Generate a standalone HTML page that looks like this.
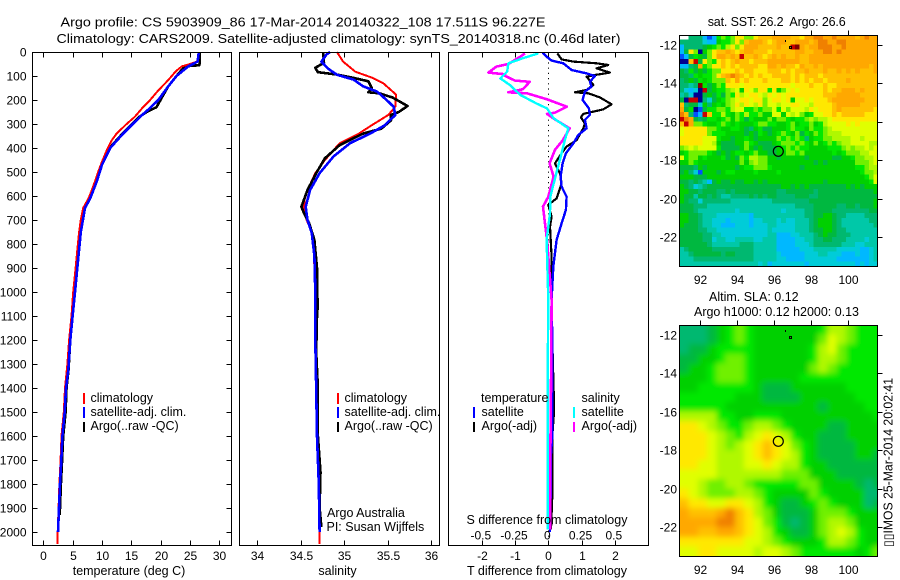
<!DOCTYPE html>
<html lang="en">
<head>
<meta charset="utf-8">
<title>Argo profile CS 5903909_86</title>
<style>
html,body{margin:0;padding:0;background:#fff;}
#chart{display:block;width:900px;height:580px;}
text{font-family:"Liberation Sans",sans-serif;font-size:12.5px;fill:#000;}
text.tk{font-size:12px;}
.frame{fill:none;stroke:#000;stroke-width:1.3;shape-rendering:crispEdges;}
.tick{stroke:#000;stroke-width:1;shape-rendering:crispEdges;}
.mark{stroke-width:2.4;shape-rendering:crispEdges;}
.series{fill:none;stroke-linejoin:round;shape-rendering:crispEdges;}
</style>
</head>
<body>
<svg id="chart" xmlns="http://www.w3.org/2000/svg" width="900" height="580" viewBox="0 0 900 580">
  <defs>
    <clipPath id="clip-sst"><rect x="679.5" y="35.5" width="198" height="231"/></clipPath>
    <clipPath id="clip-sla"><rect x="679.5" y="325.5" width="198" height="231"/></clipPath>
    <filter id="sla-smooth" filterUnits="userSpaceOnUse" x="640" y="290" width="260" height="290"><feGaussianBlur stdDeviation="3"/></filter>
  </defs>
  <text x="60.5" y="26.5" textLength="485" lengthAdjust="spacingAndGlyphs" style="font-size:13px">Argo profile: CS 5903909_86 17-Mar-2014 20140322_108 17.511S 96.227E</text>
  <text x="56.5" y="43" textLength="564" lengthAdjust="spacingAndGlyphs" style="font-size:13px">Climatology: CARS2009. Satellite-adjusted climatology: synTS_20140318.nc (0.46d later)</text>

  <g id="layer-sst" clip-path="url(#clip-sst)"></g>
  <g clip-path="url(#clip-sla)"><g id="layer-sla" filter="url(#sla-smooth)"></g></g>
  <g id="layer-axes"></g>
  <g id="layer-lines"></g>

  <rect class="frame" x="32.5" y="52.5" width="199" height="493"/>
  <rect class="frame" x="239.5" y="52.5" width="200" height="493"/>
  <rect class="frame" x="448.5" y="52.5" width="200" height="493"/>
  <rect class="frame" x="679.5" y="35.5" width="198" height="231"/>
  <rect class="frame" x="679.5" y="325.5" width="198" height="231"/>

  <text x="129" y="575" text-anchor="middle">temperature (deg C)</text>
  <text x="337.5" y="575" text-anchor="middle">salinity</text>
  <text x="547" y="575" text-anchor="middle">T difference from climatology</text>
  <text x="547" y="524" text-anchor="middle">S difference from climatology</text>

  <g>
    <line class="mark" x1="84" x2="84" y1="393" y2="404" stroke="#f00"/>
    <text x="90.5" y="402">climatology</text>
    <line class="mark" x1="84" x2="84" y1="407" y2="418" stroke="#00f"/>
    <text x="90.5" y="416">satellite-adj. clim.</text>
    <line class="mark" x1="84" x2="84" y1="422" y2="432" stroke="#000"/>
    <text x="90.5" y="430">Argo(..raw -QC)</text>
  </g>
  <g>
    <line class="mark" x1="338" x2="338" y1="393" y2="404" stroke="#f00"/>
    <text x="344.5" y="402">climatology</text>
    <line class="mark" x1="338" x2="338" y1="407" y2="418" stroke="#00f"/>
    <text x="344.5" y="416">satellite-adj. clim.</text>
    <line class="mark" x1="338" x2="338" y1="422" y2="432" stroke="#000"/>
    <text x="344.5" y="430">Argo(..raw -QC)</text>
  </g>
  <text x="327" y="517">Argo Australia</text>
  <text x="326.5" y="531">PI: Susan Wijffels</text>
  <g>
    <text x="481" y="402">temperature</text>
    <line class="mark" x1="474" x2="474" y1="407" y2="418" stroke="#00f"/>
    <text x="481.5" y="416">satellite</text>
    <line class="mark" x1="474" x2="474" y1="422" y2="432" stroke="#000"/>
    <text x="481.5" y="430">Argo(-adj)</text>
    <text x="581.5" y="402">salinity</text>
    <line class="mark" x1="574" x2="574" y1="407" y2="418" stroke="#0ff"/>
    <text x="581.5" y="416">satellite</text>
    <line class="mark" x1="574" x2="574" y1="422" y2="432" stroke="#f0f"/>
    <text x="581.5" y="430">Argo(-adj)</text>
  </g>

  <text x="707.7" y="26" textLength="138" xml:space="preserve" style="white-space:pre">sat. SST: 26.2  Argo: 26.6</text>
  <text x="709" y="301">Altim. SLA: 0.12</text>
  <text x="694" y="316" textLength="165">Argo h1000: 0.12 h2000: 0.13</text>
  <text transform="translate(892.5 547) rotate(-90)" textLength="169" lengthAdjust="spacingAndGlyphs">▯▯IMOS 25-Mar-2014 20:02:41</text>

  <circle cx="778.3" cy="151.3" r="5" fill="none" stroke="#000" stroke-width="1.2"/>
  <circle cx="778.3" cy="441.3" r="5" fill="none" stroke="#000" stroke-width="1.2"/>
  <g shape-rendering="crispEdges">
    <rect x="785" y="40" width="1" height="2" fill="#000"/>
    <rect x="789.5" y="46.5" width="2" height="2" fill="none" stroke="#000"/>
  </g>
  <g shape-rendering="crispEdges">
    <rect x="785" y="330" width="1" height="2" fill="#000"/>
    <rect x="789.5" y="336.5" width="2" height="2" fill="none" stroke="#000"/>
  </g>
</svg>

<script>
// ---------- Axis tick values ----------
const depthTicks = [0,100,200,300,400,500,600,700,800,900,1000,1100,1200,1300,1400,1500,1600,1700,1800,1900,2000];
const tempTicks = [0,5,10,15,20,25,30];
const salTicks = [34,34.5,35,35.5,36];
const salTickLabels = ['34','34.5','35','35.5','36'];
const tDiffTicks = [-2,-1,0,1,2];
const sDiffTicks = [-0.5,-0.25,0,0.25,0.5];
const sDiffTickLabels = ['-0.5','-0.25','0','0.25','0.5'];
const lonTicks = [92,94,96,98,100];
const latTicks = [-12,-14,-16,-18,-20,-22];

// ---------- Temperature profiles ----------
const tempClimDepth = [0,20,40,50,60,80,100,130,160,200,230,270,300,340,370,400,440,470,510,540,580,610,650,700,750,800,900,1000,1100,1200,1300,1400,1500,1600,1700,1800,1900,2000,2050];
const tempClimValue = [26.5,26.4,26.2,25.0,23.6,22.6,21.9,20.8,19.6,18.2,17.0,15.6,14.2,12.5,11.6,11.0,10.3,9.8,9.2,8.8,8.2,7.7,6.8,6.4,6.1,5.9,5.5,5.1,4.8,4.4,4.1,3.7,3.5,3.1,2.95,2.75,2.6,2.45,2.4];
const tempSatDepth = [0,20,40,60,100,143,200,240,270,340,400,470,540,610,650,750,900,1000,1100,1200,1325,1400,1500,1600,1700,1800,1900,2000];
const tempSatValue = [26.5,26.4,26.3,24.7,22.7,21.3,19.6,17.9,16.5,13.6,11.4,10.0,9.1,8.0,7.1,6.4,5.8,5.4,5.0,4.6,4.26,3.87,3.65,3.25,3.07,2.85,2.68,2.5];
const tempArgoDepth = [0,30,55,60,100,143,190,230,250,270,340,400,470,540,610,650,750,900,1000,1100,1200,1325,1400,1500,1600,1700,1800,1900,1930];
const tempArgoValue = [26.7,26.7,26.6,24.1,22.7,21.3,20.2,19.3,17.6,16.4,13.5,11.3,9.9,9.0,7.8,6.9,6.2,5.7,5.3,5.0,4.6,4.3,3.95,3.8,3.4,3.2,3.0,2.85,2.8];

// ---------- Salinity profiles ----------
const salClimDepth = [0,40,82,108,130,178,228,262,305,340,380,450,505,560,610,655,700,740,800,1000,1200,1400,1600,1800,2000,2050];
const salClimValue = [34.92,34.99,35.13,35.33,35.45,35.6,35.59,35.51,35.32,35.17,34.95,34.78,34.67,34.6,34.55,34.54,34.57,34.62,34.65,34.67,34.67,34.68,34.69,34.71,34.72,34.72];
const salSatDepth = [0,10,40,70,95,115,143,165,200,228,262,305,340,380,435,505,575,645,700,755,850,1000,1200,1400,1600,1800,2000];
const salSatValue = [34.84,34.8,34.74,34.82,34.92,35.11,35.22,35.38,35.49,35.57,35.59,35.47,35.3,35.07,34.88,34.72,34.61,34.56,34.58,34.63,34.66,34.67,34.67,34.68,34.69,34.71,34.72];
const salArgoDepth = [0,45,66,84,94,108,122,150,168,172,190,225,250,262,285,319,340,388,443,505,575,645,672,714,783,900,1000,1050,1100,1250,1400,1500,1600,1750,1900,1980];
const salArgoValue = [34.76,34.77,34.67,34.7,34.92,35.11,35.28,35.32,35.28,35.41,35.56,35.73,35.63,35.54,35.54,35.43,35.22,34.95,34.78,34.68,34.58,34.51,34.54,34.6,34.66,34.69,34.69,34.70,34.69,34.68,34.7,34.7,34.7,34.73,34.72,34.74];

// ---------- Difference profiles ----------
const diffTSatDepth = [3,19,36,47,75,89,100,124,144,165,200,235,262,283,318,346,381,422,464,519,561,603,658,714,783,894,1033,1200,1400,1600,1700,1850,2000];
const diffTSatValue = [-0.17,-0.05,0.10,0.45,0.70,1.15,1.40,1.25,1.30,1.10,1.03,1.22,1.25,1.10,1.15,0.90,0.75,0.53,0.43,0.37,0.40,0.55,0.53,0.40,0.25,0.15,0.10,0.12,0.12,0.12,0.07,0.07,0.05];
const diffTArgoDepth = [6,31,40,47,54,68,86,96,103,137,158,168,172,189,218,239,258,272,297,318,367,394,422,464,506,547,610,637,686,728,853,1033,1200,1465,1500,1600,1850,1990];
const diffTArgoValue = [0.27,0.40,0.75,1.45,1.80,1.45,1.85,1.40,1.15,1.35,1.15,0.80,1.20,1.55,1.90,1.65,1.05,0.98,1.10,1.05,0.85,0.55,0.40,0.20,0.35,0.40,0.25,0,0.10,0.05,0.10,0.10,0.12,0.17,0.17,0.12,0.12,0.08];
const diffSSatDepth = [6,26,47,82,110,137,179,214,235,276,318,367,422,506,603,672,783,1033,1400,1990];
const diffSSatValue = [-0.075,-0.19,-0.30,-0.31,-0.36,-0.29,-0.21,-0.09,-0.01,0.04,0.15,0.125,0.10,0.06,0.015,0.0125,-0.0125,0,-0.005,-0.005];
const diffSArgoDepth = [6,19,50,61,86,93,96,119,124,155,168,172,197,228,253,258,281,318,367,408,464,519,603,644,714,783,853,1033,1400,1700,1990];
const diffSArgoValue = [-0.175,-0.21,-0.30,-0.39,-0.45,-0.325,-0.34,-0.25,-0.14,-0.19,-0.30,-0.16,-0.01,0.14,0.05,-0.01,0.05,0.16,0.11,0.05,0.01,0.04,0,-0.04,-0.025,-0.01,0,0.025,0.02,0.015,0.015];

// ---------- SST map: colour level per 0.25 degree cell (null = no data) ----------
const sstRows = [
[null,null,5,5,5,2,1,2,8,9,8,9,12,12,9,9,12,13,13,13,14,14,14,14,13,13,12,14,14,15,15,14,14,15,14,14,14,14,13,14,15,14,14],
[5,5,5,5,5,3,2,2,7,8,8,9,12,9,13,14,14,14,13,12,13,14,14,13,13,14,14,14,13,14,15,15,14,14,15,15,14,14,14,14,14,14,14],
[2,5,5,5,5,6,7,8,9,8,10,12,9,12,14,14,14,13,13,13,13,14,13,13,16,17,14,13,14,14,15,15,15,14,14,15,14,14,14,14,14,14,14],
[2,6,12,9,0,7,9,12,13,13,14,13,12,13,14,14,13,13,13,12,13,13,13,13,13,14,14,13,13,14,14,15,15,14,15,14,14,14,14,14,14,14,14],
[1,2,6,8,7,6,9,12,14,14,13,14,13,16,13,13,14,13,12,13,14,13,14,13,13,14,13,13,14,14,14,14,14,14,14,14,14,14,14,14,14,14,14],
[0,0,13,16,6,12,9,8,12,13,12,13,14,13,13,12,13,13,13,14,14,14,14,14,14,14,13,13,14,14,14,14,14,14,14,14,14,14,14,14,14,14,14],
[2,2,5,6,14,8,9,12,12,13,12,13,12,13,13,13,13,12,12,14,14,13,14,13,13,12,14,13,13,14,13,14,14,14,14,14,14,14,14,14,14,13,14],
[6,5,8,6,7,6,8,9,9,12,12,12,13,12,13,13,12,12,12,13,13,13,12,13,12,13,13,14,13,13,13,14,13,13,14,13,14,13,14,13,13,13,14],
[6,6,5,8,7,8,8,9,12,13,14,15,14,13,12,13,12,13,12,12,13,13,13,13,12,13,12,13,13,13,12,13,13,13,13,13,13,13,13,13,13,13,13],
[5,6,7,6,8,7,8,9,9,9,13,12,14,12,13,12,12,12,13,12,12,12,13,13,12,13,12,13,12,13,13,12,13,13,13,13,14,13,13,13,13,13,13],
[5,5,4,5,17,8,6,7,9,8,12,12,12,11,12,12,12,12,12,12,12,12,12,12,11,12,12,12,13,12,12,13,12,12,13,13,13,13,13,13,13,13,13],
[5,3,2,3,0,16,6,7,8,8,9,10,11,7,12,11,9,12,12,8,12,7,9,11,12,11,12,12,12,12,12,13,12,13,13,14,14,14,13,14,13,13,13],
[4,5,3,0,0,6,7,6,8,6,9,8,12,10,11,12,12,11,10,12,11,12,11,12,12,12,12,12,12,12,12,13,13,13,14,14,14,14,14,13,13,13,13],
[6,0,16,16,0,5,3,6,7,8,9,10,11,12,12,11,12,12,9,11,12,12,11,12,7,11,11,12,11,12,12,12,13,14,14,14,14,14,14,14,13,13,13],
[13,5,6,6,3,7,5,7,8,7,9,10,12,10,12,11,10,12,9,11,11,10,11,11,12,12,11,11,10,12,12,12,12,13,14,14,14,14,14,13,13,13,13],
[14,6,8,0,1,6,8,8,9,9,8,10,11,11,8,8,9,8,9,9,11,8,11,9,11,11,11,10,12,11,12,12,12,13,14,13,13,13,13,13,13,13,12],
[15,13,5,1,2,16,13,8,8,10,8,7,9,8,10,8,8,9,7,7,11,11,7,11,10,11,9,7,8,11,11,12,12,13,12,13,13,13,13,13,12,12,12],
[16,15,14,6,5,6,8,8,7,8,9,7,9,8,6,8,7,7,7,9,7,9,9,8,7,8,8,9,10,9,10,10,11,12,12,12,12,12,12,12,12,12,12],
[13,16,14,9,9,8,7,7,8,9,8,7,8,7,7,7,8,9,9,8,8,7,7,8,9,7,8,8,9,7,8,10,11,11,11,11,12,11,12,11,11,11,11],
[11,12,12,12,12,12,9,9,8,7,7,8,8,7,6,5,7,8,6,6,7,7,7,8,9,8,8,7,9,8,8,9,10,11,11,11,11,11,11,11,11,11,11],
[11,12,12,12,12,12,9,8,8,8,7,7,7,7,6,7,6,8,7,6,7,8,9,8,7,9,6,8,7,9,8,9,10,10,10,11,11,11,11,11,11,11,11],
[12,12,12,12,12,11,11,11,8,7,7,6,7,7,8,7,6,7,7,7,7,9,8,9,8,9,8,5,7,8,8,9,9,10,10,10,10,11,11,10,11,11,11],
[12,12,12,12,12,11,11,10,7,6,6,6,7,7,9,8,7,6,6,6,7,8,9,9,9,8,9,8,7,9,7,8,9,8,9,10,10,11,11,11,11,10,10],
[9,10,11,10,11,11,11,11,8,6,6,6,6,7,9,7,6,7,6,6,6,7,8,9,8,9,8,8,7,7,7,7,8,8,8,9,10,9,10,10,11,10,11],
[7,8,9,9,9,9,8,7,6,7,6,7,8,8,7,8,9,7,7,6,6,7,7,9,9,8,9,7,7,7,7,7,7,8,7,8,9,9,9,10,10,11,11],
[11,8,9,9,7,8,7,7,7,8,6,7,6,9,8,10,10,9,9,7,7,6,7,7,7,7,7,6,7,7,7,7,7,6,6,7,7,8,9,9,10,10,11],
[7,7,9,8,7,7,7,7,7,7,7,7,7,9,7,9,10,9,9,7,7,7,7,7,7,7,7,7,7,6,7,6,7,7,7,7,7,7,9,9,9,10,11],
[6,6,6,5,7,6,7,7,7,7,7,7,6,7,8,8,9,9,9,8,7,7,7,7,7,7,6,7,7,7,7,7,7,7,7,7,7,7,8,8,9,10,10],
[6,7,5,3,1,7,7,7,6,7,8,8,7,7,7,7,8,7,7,7,7,8,7,7,7,7,7,7,7,7,7,7,7,7,7,7,7,7,7,8,9,9,10],
[7,7,7,6,6,6,7,7,7,7,7,7,7,7,7,7,7,7,7,7,7,7,7,7,7,7,7,7,7,7,7,7,7,7,7,7,7,7,7,7,8,9,11],
[6,6,5,6,5,4,2,6,7,6,6,7,6,6,7,7,6,7,6,7,7,7,7,7,7,7,7,7,7,7,7,6,7,7,7,7,7,7,7,7,7,8,11],
[7,6,5,3,4,5,6,6,6,6,6,6,6,6,6,6,6,6,6,6,6,6,7,7,6,7,6,7,6,6,6,6,6,6,6,6,7,6,7,6,7,7,7],
[7,7,6,6,5,6,6,6,5,5,6,5,6,6,6,6,6,6,6,6,6,5,5,6,6,6,6,6,6,5,6,6,6,6,6,6,6,6,6,6,6,6,7],
[7,6,6,4,6,6,5,6,5,4,4,5,5,5,5,6,5,6,5,6,6,5,5,5,5,6,6,6,5,5,6,6,6,6,6,6,6,6,6,6,6,6,6],
[7,6,5,5,3,5,5,5,5,5,5,4,4,4,4,4,4,4,4,4,5,5,5,5,5,5,5,5,6,6,6,6,6,6,6,6,6,6,6,6,6,6,7],
[6,6,6,5,5,5,4,4,4,4,4,4,4,4,4,4,4,4,4,4,4,4,4,4,4,5,5,5,5,6,6,6,6,6,5,5,6,6,5,6,6,6,7],
[6,6,6,5,4,4,4,4,4,4,4,4,3,4,4,4,4,4,4,4,4,4,3,4,4,4,4,5,5,6,6,6,6,5,5,5,5,5,5,5,5,6,6],
[7,7,6,6,5,4,4,4,3,3,3,3,3,3,3,2,4,4,4,4,4,4,4,4,4,4,4,5,5,6,6,7,7,6,5,5,4,4,4,4,5,5,5],
[7,7,6,6,5,4,4,3,3,3,2,3,3,3,3,2,3,3,4,4,4,3,4,3,3,4,4,4,5,6,7,7,7,6,5,4,4,4,4,4,4,5,5],
[7,6,6,6,5,4,4,3,3,2,2,2,3,3,3,2,3,3,3,4,4,3,3,3,3,4,4,4,5,6,7,7,7,6,5,4,4,4,4,4,4,4,5],
[6,6,6,6,5,5,4,4,3,3,3,3,3,3,3,3,3,3,3,4,3,3,3,3,3,4,4,4,5,6,6,7,7,6,5,5,4,4,4,4,4,4,4],
[6,6,6,6,6,5,5,4,4,3,3,3,3,3,3,3,3,3,3,4,4,2,2,2,3,3,4,4,4,5,6,7,6,6,5,5,5,4,4,4,4,4,4],
[6,6,6,6,6,5,5,3,4,4,3,3,4,4,4,4,3,3,4,4,4,2,2,2,2,3,3,4,4,5,5,6,6,5,5,5,4,4,4,4,3,4,4],
[6,6,6,6,6,6,5,4,4,4,4,4,4,5,5,5,4,4,4,4,4,2,2,2,2,3,3,3,4,5,5,5,5,5,5,4,4,4,3,3,4,4,4],
[4,5,6,6,6,6,6,5,5,5,5,5,5,5,5,5,4,4,4,4,4,2,2,2,2,2,3,3,3,4,4,4,4,4,3,3,3,3,3,2,2,3,4],
[4,4,5,6,6,6,6,6,6,5,6,6,5,5,5,5,4,4,4,4,4,3,2,2,2,2,2,3,3,3,4,4,3,3,3,2,2,2,3,2,2,3,4],
[4,4,4,5,5,5,5,5,5,5,5,5,5,5,5,5,4,4,4,4,4,3,3,2,2,2,2,3,3,3,3,3,3,3,2,2,2,2,2,2,2,3,4],
[4,4,4,4,4,4,4,4,4,4,4,4,4,4,4,4,4,3,4,2,3,3,3,3,3,3,3,2,3,3,3,3,3,3,3,3,3,3,2,3,2,3,3]
];

// ---------- SLA map: colour level per 0.5 degree cell ----------
const slaRows = [
[5,5,5,6,7,8,9,8,7,7,7,7,7,7,7,8,10,10,9,8,8,8],
[5,5,5,6,7,8,9,8,7,7,7,7,7,7,7,9,11,10,9,8,8,8],
[5,6,6,7,8,8,8,8,7,7,7,7,7,7,8,10,11,9,8,8,8,8],
[6,6,7,7,8,9,9,8,7,7,7,7,7,7,8,10,10,9,8,8,8,8],
[6,7,7,8,9,9,9,8,7,7,7,7,7,7,9,10,9,8,8,8,8,8],
[7,7,7,8,9,9,9,8,7,7,7,7,7,8,8,8,8,8,8,8,8,8],
[7,7,8,8,8,8,8,8,7,6,6,6,7,7,7,7,7,7,8,8,8,8],
[8,8,8,8,8,8,7,7,7,6,6,6,6,7,7,7,7,7,7,8,8,8],
[8,8,8,8,8,7,7,7,7,7,7,7,7,7,7,6,7,7,7,7,8,8],
[10,10,10,10,8,8,7,7,8,8,8,7,7,7,7,7,7,7,7,7,7,8],
[12,12,11,10,9,8,8,9,10,10,9,8,7,7,7,7,6,6,7,7,7,7],
[12,12,12,11,10,9,8,10,11,12,11,10,8,7,7,6,6,6,7,7,7,7],
[12,12,12,11,10,9,10,11,12,13,12,11,9,8,7,6,6,6,6,7,7,7],
[12,12,12,11,10,10,10,11,12,13,12,11,10,8,7,6,6,6,6,7,7,6],
[12,12,11,11,10,10,10,11,11,12,11,10,10,8,7,7,6,6,6,6,6,6],
[11,11,11,11,10,10,10,10,10,10,10,9,9,9,7,7,7,6,6,6,6,6],
[11,11,10,9,9,10,10,9,8,8,8,8,8,9,9,7,7,7,7,6,5,6],
[12,11,10,9,9,9,10,10,9,8,7,7,7,7,9,8,7,7,7,7,5,5],
[13,12,12,11,11,12,12,11,10,8,7,6,6,7,8,9,8,7,7,7,5,6],
[14,13,13,13,14,15,13,12,10,9,7,6,6,6,7,9,9,9,8,7,7,7],
[14,14,14,14,15,15,13,12,11,9,8,6,5,6,7,9,10,10,9,7,7,7],
[14,14,13,13,14,14,13,12,11,10,8,7,6,6,7,9,10,11,10,8,7,7],
[12,12,12,12,12,12,12,11,11,10,9,8,7,7,7,8,10,10,9,8,7,7],
[11,11,12,12,11,11,11,11,10,11,11,10,9,8,8,8,8,8,8,7,8,9]
];

// ---------- Colour scale (level -> colour) ----------
const levelColors = ['#000090','#0050ff','#00b8ff','#00ccd8','#00c8a8','#00b870','#00b840','#00d000','#00e800','#70f000','#b0f800','#e0ff00','#ffe800','#ffc000','#ffa800','#f08000','#c80000','#800000'];

// ---------- Axis functions ----------
const yDepth = d => 52 + 0.24 * d;
const xTemp = t => 43.3 + 5.867 * t;
const xSal = s => 257 + 87 * (s - 34);
const xTDiff = t => 548.3 + 33.3 * t;
const xSDiff = s => 548.3 + 133 * s;
const xLon = lon => 700.3 + 18.5 * (lon - 92);
const yLat = (lat, top) => top + 9 + 19.27 * (-12 - lat);

const SVGNS = 'http://www.w3.org/2000/svg';
const axesLayer = document.getElementById('layer-axes');
const linesLayer = document.getElementById('layer-lines');

function addTick(x1, y1, x2, y2, name) {
  const el = document.createElementNS(SVGNS, 'line');
  el.setAttribute('class', 'tick');
  el.setAttribute('x1', x1);
  el.setAttribute('y1', y1);
  el.setAttribute('x2', x2);
  el.setAttribute('y2', y2);
  
  
  axesLayer.appendChild(el);
}
function addLabel(x, y, str, anchor, name) {
  const el = document.createElementNS(SVGNS, 'text');
  el.setAttribute('class', 'tk');
  el.setAttribute('x', x);
  el.setAttribute('y', y);
  el.setAttribute('text-anchor', anchor);
  el.textContent = str;
  
  
  axesLayer.appendChild(el);
}
function addProfile(xFn, depths, values, color, width, name) {
  const el = document.createElementNS(SVGNS, 'polyline');
  el.setAttribute('class', 'series');
  el.setAttribute('points', depths.map((d, i) => xFn(values[i]).toFixed(1) + ',' + yDepth(d).toFixed(1)).join(' '));
  el.setAttribute('stroke', color);
  el.setAttribute('stroke-width', width);
  
  
  linesLayer.appendChild(el);
}

// Depth axis
depthTicks.forEach(d => {
  const y = Math.round(yDepth(d)) + 0.5;
  addTick(32.5, y, 37.5, y, 'depth-tick-left');
  addTick(226.5, y, 231.5, y, 'depth-tick-right');
  addLabel(26.5, y + 4, String(d), 'end', 'depth-tick-label');
});
// Bottom axes
function bottomAxis(ticks, labels, xFn, y, name) {
  ticks.forEach((v, i) => {
    const x = Math.round(xFn(v)) + 0.5;
    addTick(x, 545.5, x, 540.5, name + '-tick-bottom');
    addTick(x, 52.5, x, 57.5, name + '-tick-top');
    addLabel(x, y, labels[i], 'middle', name + '-tick-label');
  });
}
bottomAxis(tempTicks, tempTicks.map(String), xTemp, 560, 'temperature');
bottomAxis(salTicks, salTickLabels, xSal, 560, 'salinity');
bottomAxis(tDiffTicks, tDiffTicks.map(String), xTDiff, 560, 't-difference');
sDiffTicks.forEach((v, i) => {
  addLabel(xSDiff(v) - 1, 539.5, sDiffTickLabels[i], 'middle', 's-difference-tick-label');
});
// Map axes
[[35.5, 'sst'], [325.5, 'sla']].forEach(([top, name]) => {
  lonTicks.forEach(lon => {
    const x = Math.round(xLon(lon)) + 0.5;
    addTick(x, top, x, top - 5, name + '-lon-tick');
    addLabel(x, top + 248.5, String(lon), 'middle', name + '-lon-tick-label');
  });
  latTicks.forEach(lat => {
    const y = Math.round(yLat(lat, top)) + 0.5;
    addTick(877.5, y, 882.5, y, name + '-lat-tick');
    addLabel(677, y + 4, String(lat), 'end', name + '-lat-tick-label');
  });
});

// Heatmap cells
function drawGrid(layerId, rows, deg, top, pad, name) {
  const layer = document.getElementById(layerId);
  rows.forEach((row, r) => {
    row.forEach((level, c) => {
      if (level === null) return;
      const lon0 = 90.875 + c * deg, lat0 = -11.5 - r * deg;
      let x = xLon(lon0), y = yLat(lat0, top);
      let w = xLon(lon0 + deg) - x, h = yLat(lat0 - deg, top) - y;
      if (pad && c === 0) { x -= pad; w += pad; }
      if (pad && r === 0) { y -= pad; h += pad; }
      if (pad && c === row.length - 1) w += pad;
      if (pad && r === rows.length - 1) h += pad;
      const el = document.createElementNS(SVGNS, 'rect');
      el.setAttribute('x', x.toFixed(2));
      el.setAttribute('y', y.toFixed(2));
      el.setAttribute('width', (w + 0.4).toFixed(2));
      el.setAttribute('height', (h + 0.4).toFixed(2));
      el.setAttribute('fill', levelColors[level]);
      el.setAttribute('shape-rendering', 'crispEdges');
      
      
      layer.appendChild(el);
    });
  });
}
drawGrid('layer-sst', sstRows, 0.25, 35.5, 0, 'sst-cell');
drawGrid('layer-sla', slaRows, 0.5, 325.5, 14, 'sla-cell');

// Zero line of the difference panel
const zeroLine = document.createElementNS(SVGNS, 'line');
zeroLine.setAttribute('x1', '548.5');
zeroLine.setAttribute('x2', '548.5');
zeroLine.setAttribute('y1', yDepth(0));
zeroLine.setAttribute('y2', yDepth(2050));
zeroLine.setAttribute('stroke', '#000');
zeroLine.setAttribute('stroke-dasharray', '1.2 4');


linesLayer.appendChild(zeroLine);

// Profiles
addProfile(xTemp, tempArgoDepth, tempArgoValue, '#000', 2.6, 'temperature-argo-line');
addProfile(xTemp, tempClimDepth, tempClimValue, '#f00', 2, 'temperature-climatology-line');
addProfile(xTemp, tempSatDepth, tempSatValue, '#00f', 2.6, 'temperature-satellite-line');
addProfile(xSal, salClimDepth, salClimValue, '#f00', 2, 'salinity-climatology-line');
addProfile(xSal, salArgoDepth, salArgoValue, '#000', 2.6, 'salinity-argo-line');
addProfile(xSal, salSatDepth, salSatValue, '#00f', 2.6, 'salinity-satellite-line');
addProfile(xTDiff, diffTArgoDepth, diffTArgoValue, '#000', 2.2, 't-difference-argo-line');
addProfile(xTDiff, diffTSatDepth, diffTSatValue, '#00f', 2.4, 't-difference-satellite-line');
addProfile(xSDiff, diffSArgoDepth, diffSArgoValue, '#f0f', 2.6, 's-difference-argo-line');
addProfile(xSDiff, diffSSatDepth, diffSSatValue, '#0ff', 2.4, 's-difference-satellite-line');
</script>
</body>
</html>
